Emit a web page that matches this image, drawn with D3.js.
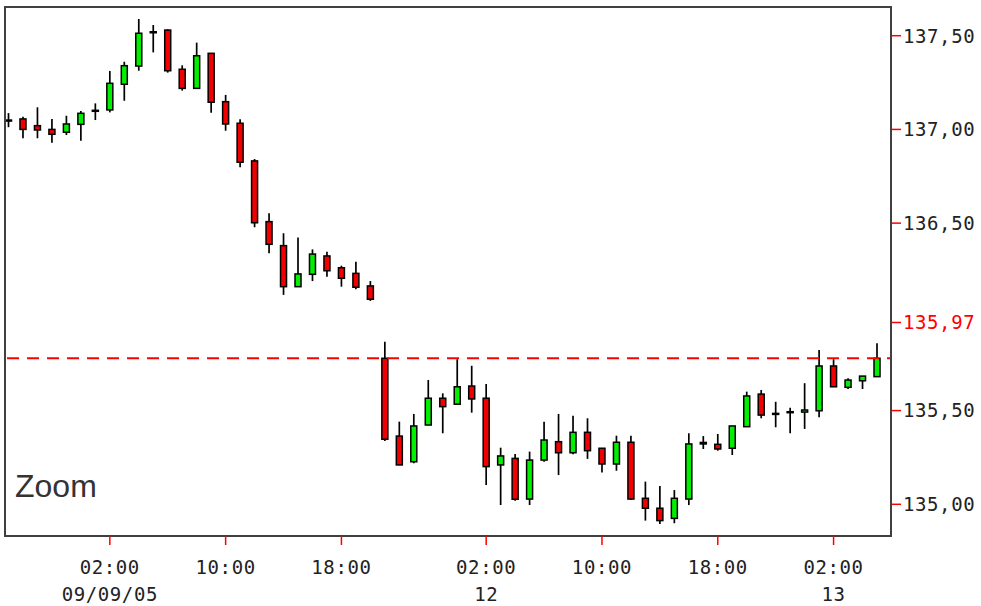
<!DOCTYPE html>
<html>
<head>
<meta charset="utf-8">
<script src="https://cdn.jsdelivr.net/npm/d3@7"></script>
<style>
  body { margin: 0; background: #fff; }
  svg { display: block; }
</style>
</head>
<body>
<div id="chart"></div>
<script>
// Hourly candles, 08/09/05 19:00 -> 13/09/05 07:00 (weekend skipped)
const opens = [137.05, 137.056, 137.02, 137.0, 136.985, 137.027, 137.098, 137.104, 137.241, 137.338,
  137.521, 137.53, 137.321, 137.219, 137.406, 137.148, 137.033, 136.832, 136.508, 136.38,
  136.161, 136.227, 136.325, 136.262, 136.232, 136.165, 135.779, 135.364, 135.227, 135.423,
  135.566, 135.534, 135.631, 135.566, 135.21, 135.245, 135.028, 135.236, 135.334, 135.275,
  135.384, 135.299, 135.215, 135.331, 135.032, 134.979, 134.925, 135.028, 135.322, 135.32,
  135.299, 135.414, 135.588, 135.485, 135.494, 135.492, 135.499, 135.738, 135.624, 135.659,
  135.681];
const highs = [137.087, 137.068, 137.118, 137.056, 137.073, 137.098, 137.139, 137.312, 137.361, 137.589,
  137.557, 137.534, 137.342, 137.463, 137.406, 137.184, 137.054, 136.842, 136.553, 136.446,
  136.424, 136.36, 136.348, 136.273, 136.294, 136.191, 135.867, 135.441, 135.482, 135.663,
  135.592, 135.774, 135.739, 135.642, 135.302, 135.268, 135.281, 135.441, 135.482, 135.473,
  135.459, 135.299, 135.366, 135.366, 135.121, 135.098, 135.076, 135.379, 135.364, 135.375,
  135.418, 135.601, 135.61, 135.547, 135.515, 135.646, 135.823, 135.774, 135.672, 135.684,
  135.859];
const lows = [137.012, 136.953, 136.953, 136.929, 136.97, 136.94, 137.05, 137.091, 137.153, 137.313,
  137.411, 137.303, 137.207, 137.219, 137.089, 136.993, 136.798, 136.478, 136.339, 136.117,
  136.161, 136.191, 136.214, 136.161, 136.147, 136.085, 135.338, 135.21, 135.219, 135.423,
  135.379, 135.534, 135.489, 135.103, 134.996, 135.019, 134.996, 135.227, 135.156, 135.267,
  135.242, 135.169, 135.179, 135.023, 134.913, 134.895, 134.899, 134.996, 135.295, 135.286,
  135.263, 135.414, 135.459, 135.411, 135.379, 135.402, 135.464, 135.627, 135.615, 135.615,
  135.681];
const closes = [137.045, 137.0, 136.997, 136.974, 137.029, 137.086, 137.102, 137.246, 137.34, 137.513,
  137.521, 137.313, 137.219, 137.393, 137.145, 137.029, 136.825, 136.502, 136.387, 136.161,
  136.229, 136.335, 136.246, 136.206, 136.158, 136.094, 135.347, 135.21, 135.418, 135.566,
  135.521, 135.627, 135.562, 135.201, 135.258, 135.027, 135.236, 135.343, 135.275, 135.384,
  135.286, 135.215, 135.331, 135.028, 134.979, 134.913, 135.032, 135.322, 135.33, 135.295,
  135.418, 135.578, 135.476, 135.485, 135.494, 135.503, 135.738, 135.627, 135.663, 135.684,
  135.779];

const lastPrice = 135.779;
const priceLabel = 135.97;

const yTicks = [137.5, 137.0, 136.5, 135.97, 135.5, 135.0];
const xTickIndex = [7, 15, 23, 33, 41, 49, 57];
const xTickTime = ["02:00", "10:00", "18:00", "02:00", "10:00", "18:00", "02:00"];
const xTickDate = ["09/09/05", "", "", "12", "", "", "13"];

const W = 981, H = 606;
const plot = { left: 5, top: 7, right: 891, bottom: 536 };

const x = d3.scaleLinear().domain([0, 60]).range([8.5, 877]);
const y = d3.scaleLinear().domain([135.0, 137.5]).range([504.3, 35.7]);

const svg = d3.select("#chart").append("svg")
  .attr("width", W)
  .attr("height", H);

svg.append("rect").attr("width", W).attr("height", H).attr("fill", "#fff");

svg.append("clipPath").attr("id", "plotClip")
  .append("rect")
  .attr("x", plot.left).attr("y", plot.top)
  .attr("width", plot.right - plot.left)
  .attr("height", plot.bottom - plot.top);

const g = svg.append("g").attr("clip-path", "url(#plotClip)");

const candles = d3.range(opens.length);

// wicks
g.selectAll(".wick")
  .data(candles)
  .enter().append("line")
  .attr("x1", i => x(i)).attr("x2", i => x(i))
  .attr("y1", i => y(highs[i]))
  .attr("y2", i => y(lows[i]))
  .attr("stroke", "#000")
  .attr("stroke-width", 1.7);

// bodies
g.selectAll(".body")
  .data(candles)
  .enter().append("rect")
  .attr("x", i => x(i) - 3)
  .attr("y", i => y(Math.max(opens[i], closes[i])))
  .attr("width", 6)
  .attr("height", i => Math.max(1, Math.abs(y(opens[i]) - y(closes[i]))))
  .attr("fill", i => closes[i] >= opens[i] ? "#00f000" : "#f00000")
  .attr("stroke", "#000")
  .attr("stroke-width", 1.5);

// last price line
g.append("line")
  .attr("x1", plot.left).attr("x2", plot.right)
  .attr("y1", y(lastPrice)).attr("y2", y(lastPrice))
  .attr("stroke", "#ff0000")
  .attr("stroke-width", 2)
  .attr("stroke-dasharray", "12,8")
  .attr("stroke-dashoffset", -2);

// frame
svg.append("rect")
  .attr("x", plot.left).attr("y", plot.top)
  .attr("width", plot.right - plot.left)
  .attr("height", plot.bottom - plot.top)
  .attr("fill", "none")
  .attr("stroke", "#404040")
  .attr("stroke-width", 2);

// Zoom label
svg.append("text")
  .attr("x", 15)
  .attr("y", 497)
  .attr("fill", "#333")
  .style("font-family", "Liberation Sans, Arial, sans-serif")
  .style("font-size", "32px")
  .text("Zoom");

// y axis (right)
const yAxis = svg.append("g");
yAxis.selectAll("line")
  .data(yTicks)
  .enter().append("line")
  .attr("x1", plot.right + 1).attr("x2", plot.right + 10)
  .attr("y1", d => y(d)).attr("y2", d => y(d))
  .attr("stroke", "#ff0000")
  .attr("stroke-width", 1.5);
yAxis.selectAll("text")
  .data(yTicks)
  .enter().append("text")
  .attr("x", plot.right + 12)
  .attr("y", d => y(d))
  .attr("dy", "0.36em")
  .attr("fill", d => d === priceLabel ? "#ff0000" : "#222")
  .style("font-family", "DejaVu Sans Mono, monospace")
  .style("font-size", "19px")
  .style("letter-spacing", "0.6px")
  .text(d => d.toFixed(2).replace(".", ","));

// x axis (bottom)
const xAxis = svg.append("g");
xAxis.selectAll("line")
  .data(xTickIndex)
  .enter().append("line")
  .attr("x1", d => x(d)).attr("x2", d => x(d))
  .attr("y1", plot.bottom).attr("y2", plot.bottom + 9)
  .attr("stroke", "#ff0000")
  .attr("stroke-width", 1.5);
xAxis.selectAll(".time")
  .data(xTickIndex)
  .enter().append("text")
  .attr("class", "time")
  .attr("x", d => x(d))
  .attr("y", 567)
  .attr("dy", "0.36em")
  .attr("text-anchor", "middle")
  .attr("fill", "#222")
  .style("font-family", "DejaVu Sans Mono, monospace")
  .style("font-size", "19px")
  .style("letter-spacing", "0.6px")
  .text((d, i) => xTickTime[i]);
xAxis.selectAll(".date")
  .data(xTickIndex)
  .enter().append("text")
  .attr("class", "date")
  .attr("x", d => x(d))
  .attr("y", 594)
  .attr("dy", "0.36em")
  .attr("text-anchor", "middle")
  .attr("fill", "#222")
  .style("font-family", "DejaVu Sans Mono, monospace")
  .style("font-size", "19px")
  .style("letter-spacing", "0.6px")
  .text((d, i) => xTickDate[i]);
</script>
</body>
</html>
